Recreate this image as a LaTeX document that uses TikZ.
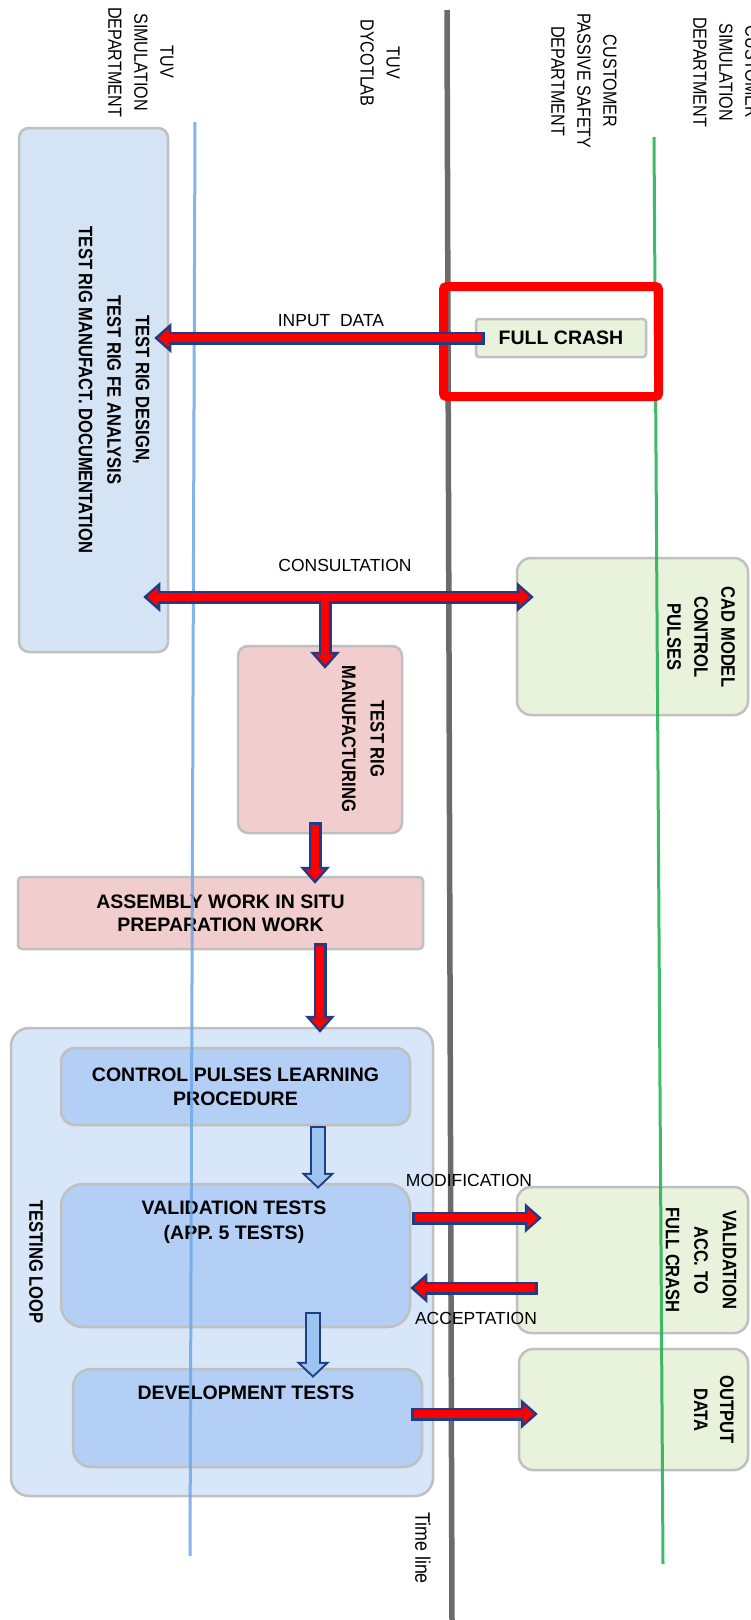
\documentclass[tikz,border=0pt]{standalone}
\usepackage{fontspec}
\setmainfont{Liberation Sans}
\newfontfamily\condfont[FakeStretch=0.85]{Liberation Sans}
\usetikzlibrary{arrows.meta, calc}

\definecolor{navyarr}{HTML}{1F3C88}
\definecolor{redfill}{HTML}{FF0000}
\definecolor{edgegray}{HTML}{C0C0C0}
\definecolor{designblue}{HTML}{D5E4F5}
\definecolor{loopblue}{HTML}{D8E6FA}
\definecolor{innerblue}{HTML}{B3CFF5}
\definecolor{pinkbox}{HTML}{F2CDCD}
\definecolor{greenbox}{HTML}{E9F3DC}
\definecolor{laneblue}{HTML}{6EA8E6}
\definecolor{lanegreen}{HTML}{1DB04F}
\definecolor{lanegray}{HTML}{6B6B6B}
\definecolor{paleblue}{HTML}{9CC4F0}

\begin{document}
\begin{tikzpicture}[
    x=1pt, y=-1pt,
    box/.style={draw=edgegray, line width=2.5pt, rounded corners=10pt, inner sep=0pt, align=center},
    btext/.style={font=\fontsize{19.5}{24}\selectfont\bfseries, align=center},
    vtext/.style={rotate=-90, font=\condfont\fontsize{19.5}{28.5}\selectfont\bfseries, align=center},
    head/.style={rotate=-90, font=\condfont\fontsize{19}{26}\selectfont, align=center},
    lbl/.style={font=\fontsize{17.5}{20}\selectfont},
    lane/.style={line width=3pt, opacity=0.85},
    redarr/.style={draw=navyarr, line width=13pt, -{Triangle[length=17pt 0 0, width=30pt 0 0, line width=0pt]},
        postaction={draw=redfill, line width=8pt, shorten <=#1, shorten >=3.8pt,
        -{Triangle[length=10.7pt 0 0, width=18.9pt 0 0, line width=0pt]}}},
    redarr/.default=2.5pt,
    redarrs/.style={draw=navyarr, line width=13pt,
        {Triangle[length=17pt 0 0, width=30pt 0 0, line width=0pt]}-{Triangle[length=17pt 0 0, width=30pt 0 0, line width=0pt]},
        postaction={draw=redfill, line width=8pt, shorten <=3.8pt, shorten >=3.8pt,
        {Triangle[length=10.7pt 0 0, width=18.9pt 0 0, line width=0pt]}-{Triangle[length=10.7pt 0 0, width=18.9pt 0 0, line width=0pt]}}},
    lightarr/.style={draw=navyarr, line width=16pt, -{Triangle[length=16pt 0 0, width=34pt 0 0, line width=0pt]},
        postaction={draw=paleblue, line width=12pt, shorten <=2pt, shorten >=2.75pt,
        -{Triangle[length=11.25pt 0 0, width=23.9pt 0 0, line width=0pt]}}},
]

\path[use as bounding box, fill=white] (0,0) rectangle (750,1620);

% department headers
\node[head] (tuvsim) at (141,62) {TUV\\SIMULATION\\DEPARTMENT};
\node[head] (tuvlab) at (380,63) {TUV\\DYCOTLAB};
\node[head] (custsafety) at (584,81) {CUSTOMER\\PASSIVE SAFETY\\DEPARTMENT};
\node[head] (custsim) at (726,72) {CUSTOMER\\SIMULATION\\DEPARTMENT};

% boxes
\node[box, fill=designblue, minimum width=149pt, minimum height=524pt] (design) at (93.5,390) {};
\node[vtext] (designtxt) at (114,390) {TEST RIG DESIGN,\\TEST RIG FE ANALYSIS\\TEST RIG MANUFACT. DOCUMENTATION};

\node[box, fill=greenbox, rounded corners=3pt, minimum width=170pt, minimum height=38pt, btext] (fullcrash) at (561,338) {FULL CRASH};

\node[box, fill=greenbox, rounded corners=14pt, minimum width=231pt, minimum height=157pt] (cad) at (632.5,636.5) {};
\node[vtext, font=\condfont\fontsize{19.5}{27}\selectfont\bfseries] (cadtxt) at (701,637) {CAD MODEL\\CONTROL\\PULSES};

\node[box, fill=pinkbox, minimum width=164pt, minimum height=187pt] (trm) at (320,739.5) {};
\node[vtext] (trmtxt) at (363,739) {TEST RIG\\MANUFACTURING};

\node[box, fill=pinkbox, rounded corners=4pt, minimum width=405pt, minimum height=72pt, btext, font=\fontsize{19.5}{23}\selectfont\bfseries] (assembly) at (220.5,913) {ASSEMBLY WORK IN SITU\\PREPARATION WORK};

\node[box, fill=loopblue, rounded corners=18pt, minimum width=422pt, minimum height=468pt] (loop) at (222,1262) {};
\node[vtext] (looptxt) at (36,1262) {TESTING LOOP};

\node[box, fill=innerblue, rounded corners=14pt, minimum width=349pt, minimum height=77pt, btext] (cpl) at (235.5,1086.5) {CONTROL PULSES LEARNING\\PROCEDURE};
\node[box, fill=innerblue, rounded corners=22pt, minimum width=349pt, minimum height=143pt] (vt) at (235.5,1255.5) {};
\node[btext, font=\fontsize{19.5}{25}\selectfont\bfseries] (vttxt) at (234,1222) {VALIDATION TESTS\\(APP. 5 TESTS)};
\node[box, fill=innerblue, rounded corners=18pt, minimum width=349pt, minimum height=98pt] (dt) at (247.5,1418) {};
\node[btext] (dttxt) at (246,1393) {DEVELOPMENT TESTS};

\node[box, fill=greenbox, rounded corners=14pt, minimum width=231pt, minimum height=146pt] (valacc) at (632.5,1260) {};
\node[vtext] (valacctxt) at (701,1260) {VALIDATION\\ACC. TO\\FULL CRASH};
\node[box, fill=greenbox, rounded corners=14pt, minimum width=229pt, minimum height=121pt] (output) at (633.5,1409.5) {};
\node[vtext, font=\condfont\fontsize{19.5}{26}\selectfont\bfseries] (outputtxt) at (714,1410) {OUTPUT\\DATA};

% swim lanes
\coordinate (bluetop) at (195,122);
\coordinate (bluebot) at (190,1556);
\coordinate (graytop) at (447,10);
\coordinate (graybot) at (452,1620);
\coordinate (greentop) at (654,137);
\coordinate (greenbot) at (663,1564);
\draw[lane, laneblue] (bluetop) -- (bluebot);
\draw[lane, lanegray, line width=5.5pt, opacity=1] (graytop) -- (graybot);
\draw[lane, lanegreen] (greentop) -- (greenbot);
\node[rotate=-90, font=\condfont\fontsize{21}{24}\selectfont] (timeline) at (423,1548) {Time line};

\node[draw=redfill, line width=9pt, rounded corners=3pt, minimum width=215pt, minimum height=110pt, inner sep=0pt] (focus) at (551,341.5) {};

% arrows
\draw[redarr] ($(fullcrash.west)+(10,0)$) -- ($(fullcrash.west -| design.east)+(-15,0)$);
\node[lbl] (inputlbl) at (331,321) {INPUT\ \ DATA};

\coordinate (consult) at (325,597);
\draw[redarrs] ($(consult -| design.east)+(-26,0)$) -- ($(consult -| cad.west)+(18,0)$);
\node[lbl] (consultlbl) at (345,565) {CONSULTATION};
\draw[redarr=-4pt] ($(consult)+(0,4)$) -- ($(trm.north)+(5,24)$);

\draw[redarr] ($(trm.south)+(-5,-12)$) -- ($(assembly.north -| trm.south)+(-5,8)$);
\draw[redarr] ($(assembly.south)+(99.5,-7)$) -- ($(loop.north)+(98,6)$);

\draw[lightarr] ($(cpl.south)+(82.5,0)$) -- ($(vt.north)+(82.5,6)$);
\draw[lightarr] ($(vt.south)+(77.5,-16)$) -- ($(dt.north)+(65.5,10)$);

\draw[redarr] ($(vt.east)+(1,-37.5)$) -- ($(valacc.west)+(26,-42)$);
\node[lbl] (modlbl) at (469,1180) {MODIFICATION};
\draw[redarr] ($(valacc.west)+(22,28)$) -- ($(vt.east)+(-1,32.5)$);
\node[lbl] (acclbl) at (476,1318) {ACCEPTATION};
\draw[redarr] ($(dt.east)+(-12,-4)$) -- ($(output.west)+(20,4.5)$);

\end{tikzpicture}
\end{document}
